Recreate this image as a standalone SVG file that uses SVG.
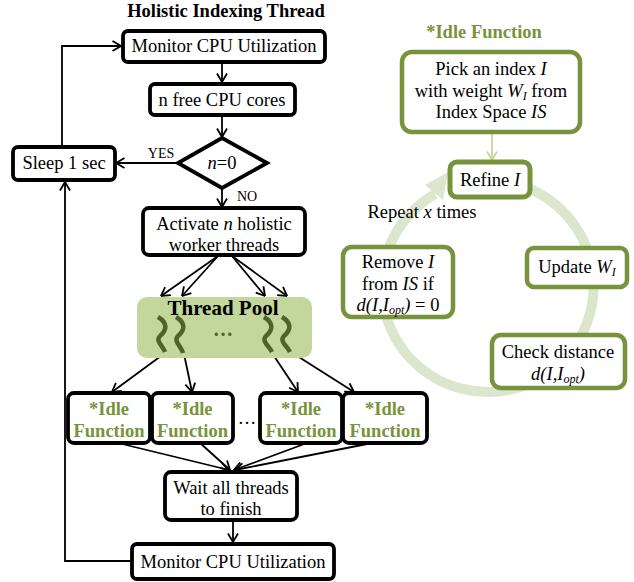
<svg xmlns="http://www.w3.org/2000/svg" width="634" height="582" viewBox="0 0 634 582">
<defs>
<style>
text{font-family:"Liberation Serif","Times New Roman",serif;font-size:18.5px;fill:#000;text-anchor:middle}
.b{font-weight:bold}
.g{fill:#77933c}
.i{font-style:italic}
.sub{font-size:12px}
.lbl{font-size:14px}
.box{fill:#fff;stroke:#000;stroke-width:3.8}
.gbox{fill:#fff;stroke:#77933c;stroke-width:4.5}
.con{fill:none;stroke:#000;stroke-width:1.8;marker-end:url(#arr)}
.sq{fill:none;stroke:#4f6228;stroke-width:4.5;stroke-linecap:butt}
</style>
<marker id="arr" viewBox="0 0 10 12" refX="9.5" refY="6" markerWidth="10" markerHeight="12" markerUnits="userSpaceOnUse" orient="auto">
<path d="M1,1 L9.5,6 L1,11" fill="none" stroke="#000" stroke-width="1.8"/>
</marker>
<marker id="garr" viewBox="0 0 10 12" refX="9.5" refY="6" markerWidth="10" markerHeight="12" markerUnits="userSpaceOnUse" orient="auto">
<path d="M1,1 L9.5,6 L1,11" fill="none" stroke="#c3d69b" stroke-width="1.8"/>
</marker>
</defs>
<rect width="634" height="582" fill="#fff"/>

<text x="226" y="17" class="b">Holistic Indexing Thread</text>

<g id="connectors">
<path class="con" d="M222,62 V82"/>
<path class="con" d="M222,115 V137"/>
<path class="con" d="M178,163 H116"/>
<path class="con" d="M62,147 V46 H121"/>
<path class="con" d="M222,188 V207"/>
<path class="con" d="M218,256 L161,296"/>
<path class="con" d="M218,256 L182,296"/>
<path class="con" d="M232,256 L265,296"/>
<path class="con" d="M232,256 L287,296"/>
<path class="con" d="M165,353 L112,392"/>
<path class="con" d="M184,354 L192,392"/>
<path class="con" d="M272,353 L298,392"/>
<path class="con" d="M291,352 L354,392"/>
<path class="con" d="M118,443 L229,470"/>
<path class="con" d="M200,443 L230,470"/>
<path class="con" d="M307,443 L234,470"/>
<path class="con" d="M372,443 L235,470"/>
<path class="con" d="M233,520 V542"/>
<path class="con" d="M132,561 H65 V182"/>
<text x="161" y="158" class="lbl">YES</text>
<text x="237" y="201" class="lbl" style="text-anchor:start">NO</text>
<path d="M492,133 V160" fill="none" stroke="#c3d69b" stroke-width="1.8" marker-end="url(#garr)"/>
</g>

<g id="monitor1"><rect class="box" x="123" y="31" width="202" height="31" rx="5"/><text x="224" y="52">Monitor CPU Utilization</text></g>
<g id="freecores"><rect class="box" x="150" y="84" width="145" height="31" rx="5"/><text x="222" y="106">n free CPU cores</text></g>
<g id="decision"><polygon points="222,138 267,163 222,188 178,163" fill="#fff" stroke="#000" stroke-width="3.8"/><text x="222" y="169"><tspan class="i">n</tspan>=0</text></g>
<g id="sleep"><rect class="box" x="13" y="147" width="102" height="33" rx="5"/><text x="64" y="169">Sleep 1 sec</text></g>
<g id="activate"><rect class="box" x="143" y="208" width="162" height="47" rx="6"/><text x="224" y="230">Activate <tspan class="i">n</tspan> holistic</text><text x="224" y="251">worker threads</text></g>

<g id="threadpool">
<rect x="137" y="297" width="175" height="61" rx="10" fill="#c3d69b"/>
<text x="223" y="315" class="b" style="font-size:21px">Thread Pool</text>
<path class="sq" d="M158,317 C168,323 167,330 160,336 C155,341 163,346 165,352"/>
<path class="sq" d="M176,317 C186,323 185,330 178,336 C173,341 181,346 183,353"/>
<path class="sq" d="M264,317 C274,323 273,330 266,336 C261,341 269,346 272,352"/>
<path class="sq" d="M282,317 C292,323 291,330 284,336 C279,341 287,346 290,352"/>
<text x="223" y="336" class="b" style="fill:#4f6228;font-size:20px">…</text>
</g>

<g id="idle1"><rect class="box" x="68" y="393" width="82" height="50" rx="6"/><text x="109" y="415" class="b g">*Idle</text><text x="109" y="437" class="b g">Function</text></g>
<g id="idle2"><rect class="box" x="152" y="393" width="81" height="50" rx="6"/><text x="192.5" y="415" class="b g">*Idle</text><text x="192.5" y="437" class="b g">Function</text></g>
<text x="247" y="424">…</text>
<g id="idle3"><rect class="box" x="260" y="393" width="82" height="50" rx="6"/><text x="301" y="415" class="b g">*Idle</text><text x="301" y="437" class="b g">Function</text></g>
<g id="idle4"><rect class="box" x="343" y="393" width="84" height="50" rx="6"/><text x="385" y="415" class="b g">*Idle</text><text x="385" y="437" class="b g">Function</text></g>

<g id="wait"><rect class="box" x="165" y="472" width="132" height="48" rx="6"/><text x="231" y="494">Wait all threads</text><text x="231" y="515">to finish</text></g>
<g id="monitor2"><rect class="box" x="132" y="544" width="202" height="35" rx="5"/><text x="233" y="568">Monitor CPU Utilization</text></g>

<text x="484" y="38" class="b g">*Idle Function</text>
<g id="ring">
<path d="M488,180 A106,106 0 1 1 435,194" fill="none" stroke="#dbe6cc" stroke-width="10"/>
<polygon points="425,185 448,172 443,200" fill="#dbe6cc"/>
</g>
<g id="pick"><rect class="gbox" x="402" y="52" width="178" height="80" rx="10"/>
<text x="491" y="75">Pick an index <tspan class="i">I</tspan></text>
<text x="491" y="97">with weight <tspan class="i">W</tspan><tspan class="i sub" dy="3">I</tspan><tspan dy="-3"> from</tspan></text>
<text x="491" y="118">Index Space <tspan class="i">IS</tspan></text></g>
<g id="refine"><rect class="gbox" x="450" y="162" width="80" height="35" rx="7" style="stroke-width:5"/><text x="490" y="186">Refine <tspan class="i">I</tspan></text></g>
<text x="422" y="218">Repeat <tspan class="i">x</tspan> times</text>
<g id="remove"><rect class="gbox" x="343" y="247" width="110" height="70" rx="9"/>
<text x="398" y="268">Remove <tspan class="i">I</tspan></text>
<text x="398" y="290">from <tspan class="i">IS</tspan> if</text>
<text x="398" y="311"><tspan class="i">d(I,I</tspan><tspan class="i sub" dy="3">opt</tspan><tspan class="i" dy="-3">)</tspan> = 0</text></g>
<g id="update"><rect class="gbox" x="527" y="248" width="100" height="39" rx="7"/><text x="577" y="273">Update <tspan class="i">W</tspan><tspan class="i sub" dy="3">I</tspan></text></g>
<g id="check"><rect class="gbox" x="492" y="335" width="133" height="53" rx="9"/>
<text x="558" y="358">Check distance</text>
<text x="558" y="380"><tspan class="i">d(I,I</tspan><tspan class="i sub" dy="3">opt</tspan><tspan class="i" dy="-3">)</tspan></text></g>
</svg>
